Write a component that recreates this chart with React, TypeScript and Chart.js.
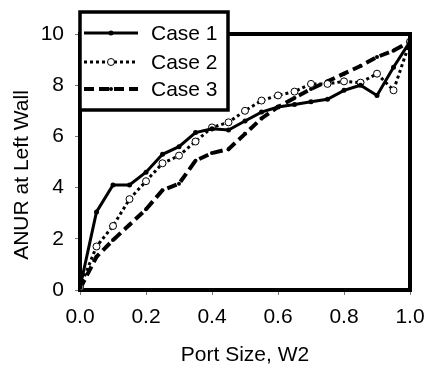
import React, { useEffect, useRef } from "react";
import { Chart, registerables } from "chart.js";

Chart.register(...registerables);

const W2 = [0, 0.05, 0.1, 0.15, 0.2, 0.25, 0.3, 0.35, 0.4, 0.45, 0.5, 0.55, 0.6, 0.65, 0.7, 0.75, 0.8, 0.85, 0.9, 0.95, 1.0];
const case1 = [0.1, 3.05, 4.1, 4.1, 4.6, 5.3, 5.6, 6.15, 6.3, 6.25, 6.6, 6.95, 7.15, 7.25, 7.35, 7.45, 7.8, 8.0, 7.6, 8.7, 9.7];
const case2 = [0.1, 1.7, 2.5, 3.55, 4.25, 4.95, 5.25, 5.8, 6.35, 6.55, 7.0, 7.4, 7.6, 7.75, 8.05, 8.05, 8.15, 8.1, 8.45, 7.8, 9.7];
const case3 = [0.05, 1.3, 1.95, 2.55, 3.15, 3.9, 4.15, 5.05, 5.35, 5.5, 6.1, 6.7, 7.15, 7.5, 7.85, 8.15, 8.45, 8.75, 9.1, 9.35, 9.7];
const seriesLabels = ["Case 1", "Case 2", "Case 3"];
const xTicks = [0, 0.2, 0.4, 0.6, 0.8, 1.0];
const yTicks = [0, 2, 4, 6, 8, 10];
const xTitle = "Port Size, W2";
const yTitle = "ANUR at Left Wall";

const FONT = "'Liberation Sans', Arial, sans-serif";

const framePlugin = {
  id: "frameAndLegend",
  afterDraw(chart: any) {
    const ctx = chart.ctx;
    const ca = chart.chartArea;
    ctx.save();
    // top and right frame
    ctx.strokeStyle = "#000";
    ctx.lineWidth = 4;
    ctx.lineCap = "square";
    ctx.beginPath();
    ctx.moveTo(ca.left, ca.top);
    ctx.lineTo(ca.right, ca.top);
    ctx.lineTo(ca.right, ca.bottom);
    ctx.stroke();

    // y-axis title (drawn slightly below the plot centre, as in the original)
    ctx.save();
    ctx.translate(22, (ca.top + ca.bottom) / 2 + 13);
    ctx.rotate(-Math.PI / 2);
    ctx.fillStyle = "#000";
    ctx.font = `21px ${FONT}`;
    ctx.textAlign = "center";
    ctx.textBaseline = "middle";
    ctx.fillText(yTitle, 0, 0);
    ctx.restore();

    // legend box
    const x0 = ca.left;
    const y0 = ca.top - 22;
    const w = 148;
    const h = 98;
    ctx.fillStyle = "#fff";
    ctx.fillRect(x0, y0, w, h);
    ctx.lineWidth = 3.5;
    ctx.lineCap = "butt";
    ctx.strokeRect(x0, y0, w, h);

    const rows = [y0 + 21, y0 + 50, y0 + 77];
    chart.data.datasets.forEach((ds: any, i: number) => {
      const y = rows[i];
      const lx0 = x0 + 4;
      const lx1 = x0 + 58;
      ctx.save();
      ctx.strokeStyle = "#000";
      ctx.lineWidth = ds.borderWidth;
      ctx.setLineDash(ds.borderDash || []);
      ctx.beginPath();
      ctx.moveTo(lx0, y);
      ctx.lineTo(lx1, y);
      ctx.stroke();
      ctx.setLineDash([]);
      const mx = (lx0 + lx1) / 2;
      if (ds.pointRadius > 0) {
        ctx.beginPath();
        ctx.arc(mx, y, ds.pointRadius, 0, Math.PI * 2);
        ctx.fillStyle = ds.pointBackgroundColor;
        ctx.fill();
        ctx.lineWidth = ds.pointBorderWidth;
        ctx.strokeStyle = "#000";
        if (ds.pointBorderWidth > 0) ctx.stroke();
      }
      ctx.restore();
      ctx.fillStyle = "#000";
      ctx.font = `21px ${FONT}`;
      ctx.textAlign = "left";
      ctx.textBaseline = "middle";
      ctx.fillText(ds.label, x0 + 71, y + 1);
    });
    ctx.restore();
  },
};

export default function App() {
  const ref = useRef<HTMLCanvasElement | null>(null);
  useEffect(() => {
    if (!ref.current) return;
    const mk = (vals: number[]) => vals.map((v, i) => ({ x: W2[i], y: v }));
    const chart = new Chart(ref.current, {
      type: "line",
      data: {
        datasets: [
          {
            label: seriesLabels[0],
            data: mk(case1),
            borderColor: "#000",
            borderWidth: 3,
            pointRadius: 2.5,
            pointBackgroundColor: "#000",
            pointBorderColor: "#000",
            pointBorderWidth: 0,
            tension: 0,
          },
          {
            label: seriesLabels[1],
            data: mk(case2),
            borderColor: "#000",
            borderWidth: 3,
            borderDash: [3, 3],
            pointRadius: 3.5,
            pointBackgroundColor: "#fff",
            pointBorderColor: "#000",
            pointBorderWidth: 1,
            tension: 0,
          },
          {
            label: seriesLabels[2],
            data: mk(case3),
            borderColor: "#000",
            borderWidth: 4,
            borderDash: [10, 5],
            pointRadius: 2,
            pointBackgroundColor: "#000",
            pointBorderColor: "#000",
            pointBorderWidth: 0,
            tension: 0,
          },
        ],
      },
      options: {
        responsive: true,
        maintainAspectRatio: false,
        animation: false,
        layout: { padding: { left: 0, right: 15, top: 34, bottom: 0 } },
        plugins: { legend: { display: false }, tooltip: { enabled: false } },
        scales: {
          x: {
            type: "linear",
            min: 0,
            max: 1,
            afterBuildTicks: (s: any) => {
              s.ticks = xTicks.map((v) => ({ value: v }));
            },
            afterFit: (s: any) => {
              s.height = 78;
              s.paddingLeft = 0;
              s.paddingRight = 0;
            },
            ticks: {
              color: "#000",
              font: { family: FONT, size: 21 },
              padding: 10,
              maxRotation: 0,
              callback: (v: any) => Number(v).toFixed(1),
            },
            grid: { drawOnChartArea: false, tickLength: 5, color: "#777", lineWidth: 1 },
            border: { color: "#000", width: 4 },
            title: {
              display: true,
              text: xTitle,
              color: "#000",
              font: { family: FONT, size: 21 },
              padding: { top: 0, bottom: 0 },
            },
          },
          y: {
            type: "linear",
            min: 0,
            max: 10,
            afterBuildTicks: (s: any) => {
              s.ticks = yTicks.map((v) => ({ value: v }));
            },
            afterFit: (s: any) => {
              s.width = 80;
              s.paddingTop = 0;
              s.paddingBottom = 0;
            },
            ticks: {
              color: "#000",
              font: { family: FONT, size: 21 },
              padding: 11,
            },
            grid: { drawOnChartArea: false, tickLength: 5, color: "#777", lineWidth: 1 },
            border: { color: "#000", width: 4 },
            title: { display: false },
          },
        },
      },
      plugins: [framePlugin],
    });
    return () => chart.destroy();
  }, []);
  return (
    <div style={{ position: "absolute", left: 0, top: 0, width: 425, height: 368, background: "#fff" }}>
      <canvas ref={ref} />
    </div>
  );
}
